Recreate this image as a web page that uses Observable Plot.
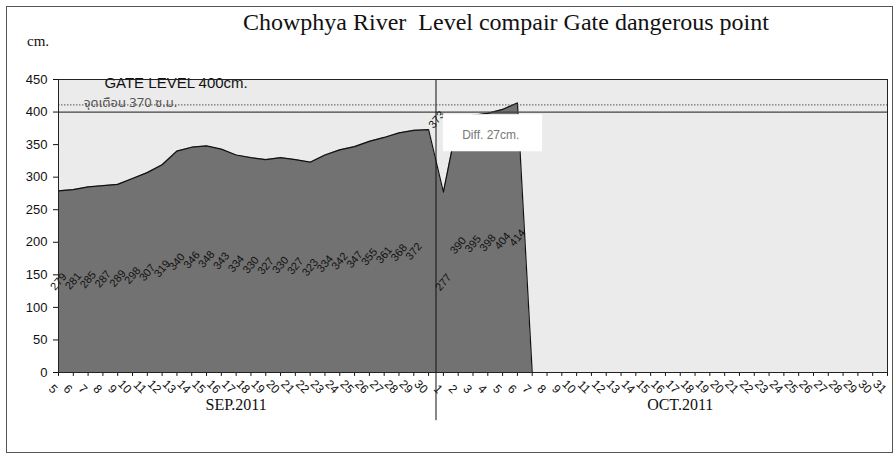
<!DOCTYPE html>
<html>
<head>
<meta charset="utf-8">
<script src="https://cdn.jsdelivr.net/npm/d3@7"></script>
<script src="https://cdn.jsdelivr.net/npm/@observablehq/plot@0.6"></script>
<style>
  body { margin: 0; background: #fff; }
  #wrap { position: relative; width: 896px; height: 455px; overflow: hidden; background: #fff; }
  #frame { position: absolute; left: 6px; top: 6px; width: 887px; height: 447px; border: 1px solid #555; box-sizing: border-box; }
  #chart { position: absolute; left: 0; top: 0; }
  #title { position: absolute; left: 243px; top: 9px; font: 24px "Liberation Serif", "Times New Roman", serif; white-space: nowrap; color: #111; }
  #unit { position: absolute; left: 27px; top: 33px; font: 15px "Liberation Serif", "Times New Roman", serif; color: #111; }
</style>
</head>
<body>
<div id="wrap">
  <div id="frame"></div>
  <div id="chart"></div>
  <div id="title"></div>
  <div id="unit"></div>
</div>
<script>
// ---- data ----
const titleText = "Chowphya River\u00a0 Level compair Gate dangerous point";
const unitText = "cm.";
const sepDays = ["5","6","7","8","9","10","11","12","13","14","15","16","17","18","19","20","21","22","23","24","25","26","27","28","29","30"];
const octDays = ["1","2","3","4","5","6","7","8","9","10","11","12","13","14","15","16","17","18","19","20","21","22","23","24","25","26","27","28","29","30","31"];
const monthNames = ["SEP.2011", "OCT.2011"];
// river level, cm, Sep 5 .. Oct 6
const riverLevel = [279,281,285,287,289,298,307,319,340,346,348,343,334,330,327,330,327,323,334,342,347,355,361,368,372,373,277,390,395,398,404,414];
const yTicks = [0,50,100,150,200,250,300,350,400,450];
const gateLevel = 400;
const gateText = "GATE LEVEL 400cm.";
const watchText = "จุดเตือน 370 ซ.ม.";

// ---- derived tables ----
const days = [...sepDays, ...octDays];
const ticks = days.map((d, i) => ({i, d}));
const pts = riverLevel.map((v, i) => ({i, v}));
const areaPts = [...pts, {i: pts.length, v: 0}];
const peakIdx = d3.maxIndex(riverLevel.slice(0, sepDays.length));
const peak = riverLevel[peakIdx];
const octStart = sepDays.length;
const months = [
  {name: monthNames[0], i: sepDays.indexOf("17")},
  {name: monthNames[1], i: octStart + octDays.indexOf("17")}
];
const sans = "'Liberation Sans', Arial, sans-serif";

document.getElementById("title").textContent = titleText;
document.getElementById("unit").textContent = unitText;

const chart = Plot.plot({
  width: 896,
  height: 455,
  marginLeft: 58,
  marginRight: 9,
  marginTop: 79,
  marginBottom: 83,
  x: {domain: [0, days.length - 1], axis: null},
  y: {domain: [0, 450], axis: null},
  style: {fontFamily: sans, background: "transparent", overflow: "visible", color: "#111"},
  marks: [
    Plot.frame({fill: "#ebebeb"}),
    Plot.areaY(areaPts, {x: "i", y: "v", fill: "#727272"}),
    Plot.lineY(areaPts, {x: "i", y: "v", stroke: "#111", strokeWidth: 1.2}),
    Plot.ruleY([gateLevel], {stroke: "#444", strokeWidth: 1.3}),
    Plot.ruleY([gateLevel + 11], {stroke: "#555", strokeDasharray: "1.5,1.5"}),
    // data labels at mid-height of the area
    Plot.text(pts.filter(d => d.i !== peakIdx), {x: "i", y: d => d.v / 2, text: d => String(d.v), rotate: -50, fontSize: 11, fill: "#111"}),
    Plot.text(pts.filter(d => d.i === peakIdx), {x: "i", y: d => d.v, text: d => String(d.v), rotate: -50, fontSize: 11, fill: "#111", dx: 8, dy: -10}),
    // Diff callout
    Plot.rect([peak], {x1: octStart, x2: octStart + 6.7, y1: 339, y2: 396, fill: "white"}),
    Plot.text([peak], {x: octStart + 3.2, y: 364, text: d => `Diff. ${gateLevel - d}cm.`, fill: "#777", fontSize: 12}),
    // Sep/Oct divider
    Plot.ruleX([octStart - 0.5], {y1: 450, y2: -74, stroke: "#111", strokeWidth: 1}),
    // x axis
    Plot.ruleY([0], {stroke: "#111", strokeWidth: 1.2}),
    Plot.ruleX(ticks, {x: "i", y1: 0, y2: -6, stroke: "#111"}),
    Plot.text(ticks, {x: "i", y: 0, text: "d", rotate: 45, textAnchor: "end", dy: 19, dx: -3, fontSize: 12, fill: "#111"}),
    Plot.text(months, {x: "i", y: 0, text: "name", dy: 32, fontSize: 16, fontFamily: "'Liberation Serif', serif", fill: "#111"}),
    // y axis
    Plot.axisY({ticks: yTicks, tickSize: 5, tickPadding: 6, fontSize: 13, fontFamily: sans, label: null}),
    // annotations
    Plot.text([gateText], {x: 3.1, y: 445, text: d => d, textAnchor: "start", fontSize: 15, fill: "#111"}),
    Plot.text([watchText], {x: 1.7, y: 414, text: d => d, textAnchor: "start", fontSize: 13, fill: "#555", fontFamily: "'Noto Sans Thai', 'Noto Sans', sans-serif"}),
    Plot.frame({stroke: "#222"})
  ]
});
document.getElementById("chart").appendChild(chart);
</script>
</body>
</html>
